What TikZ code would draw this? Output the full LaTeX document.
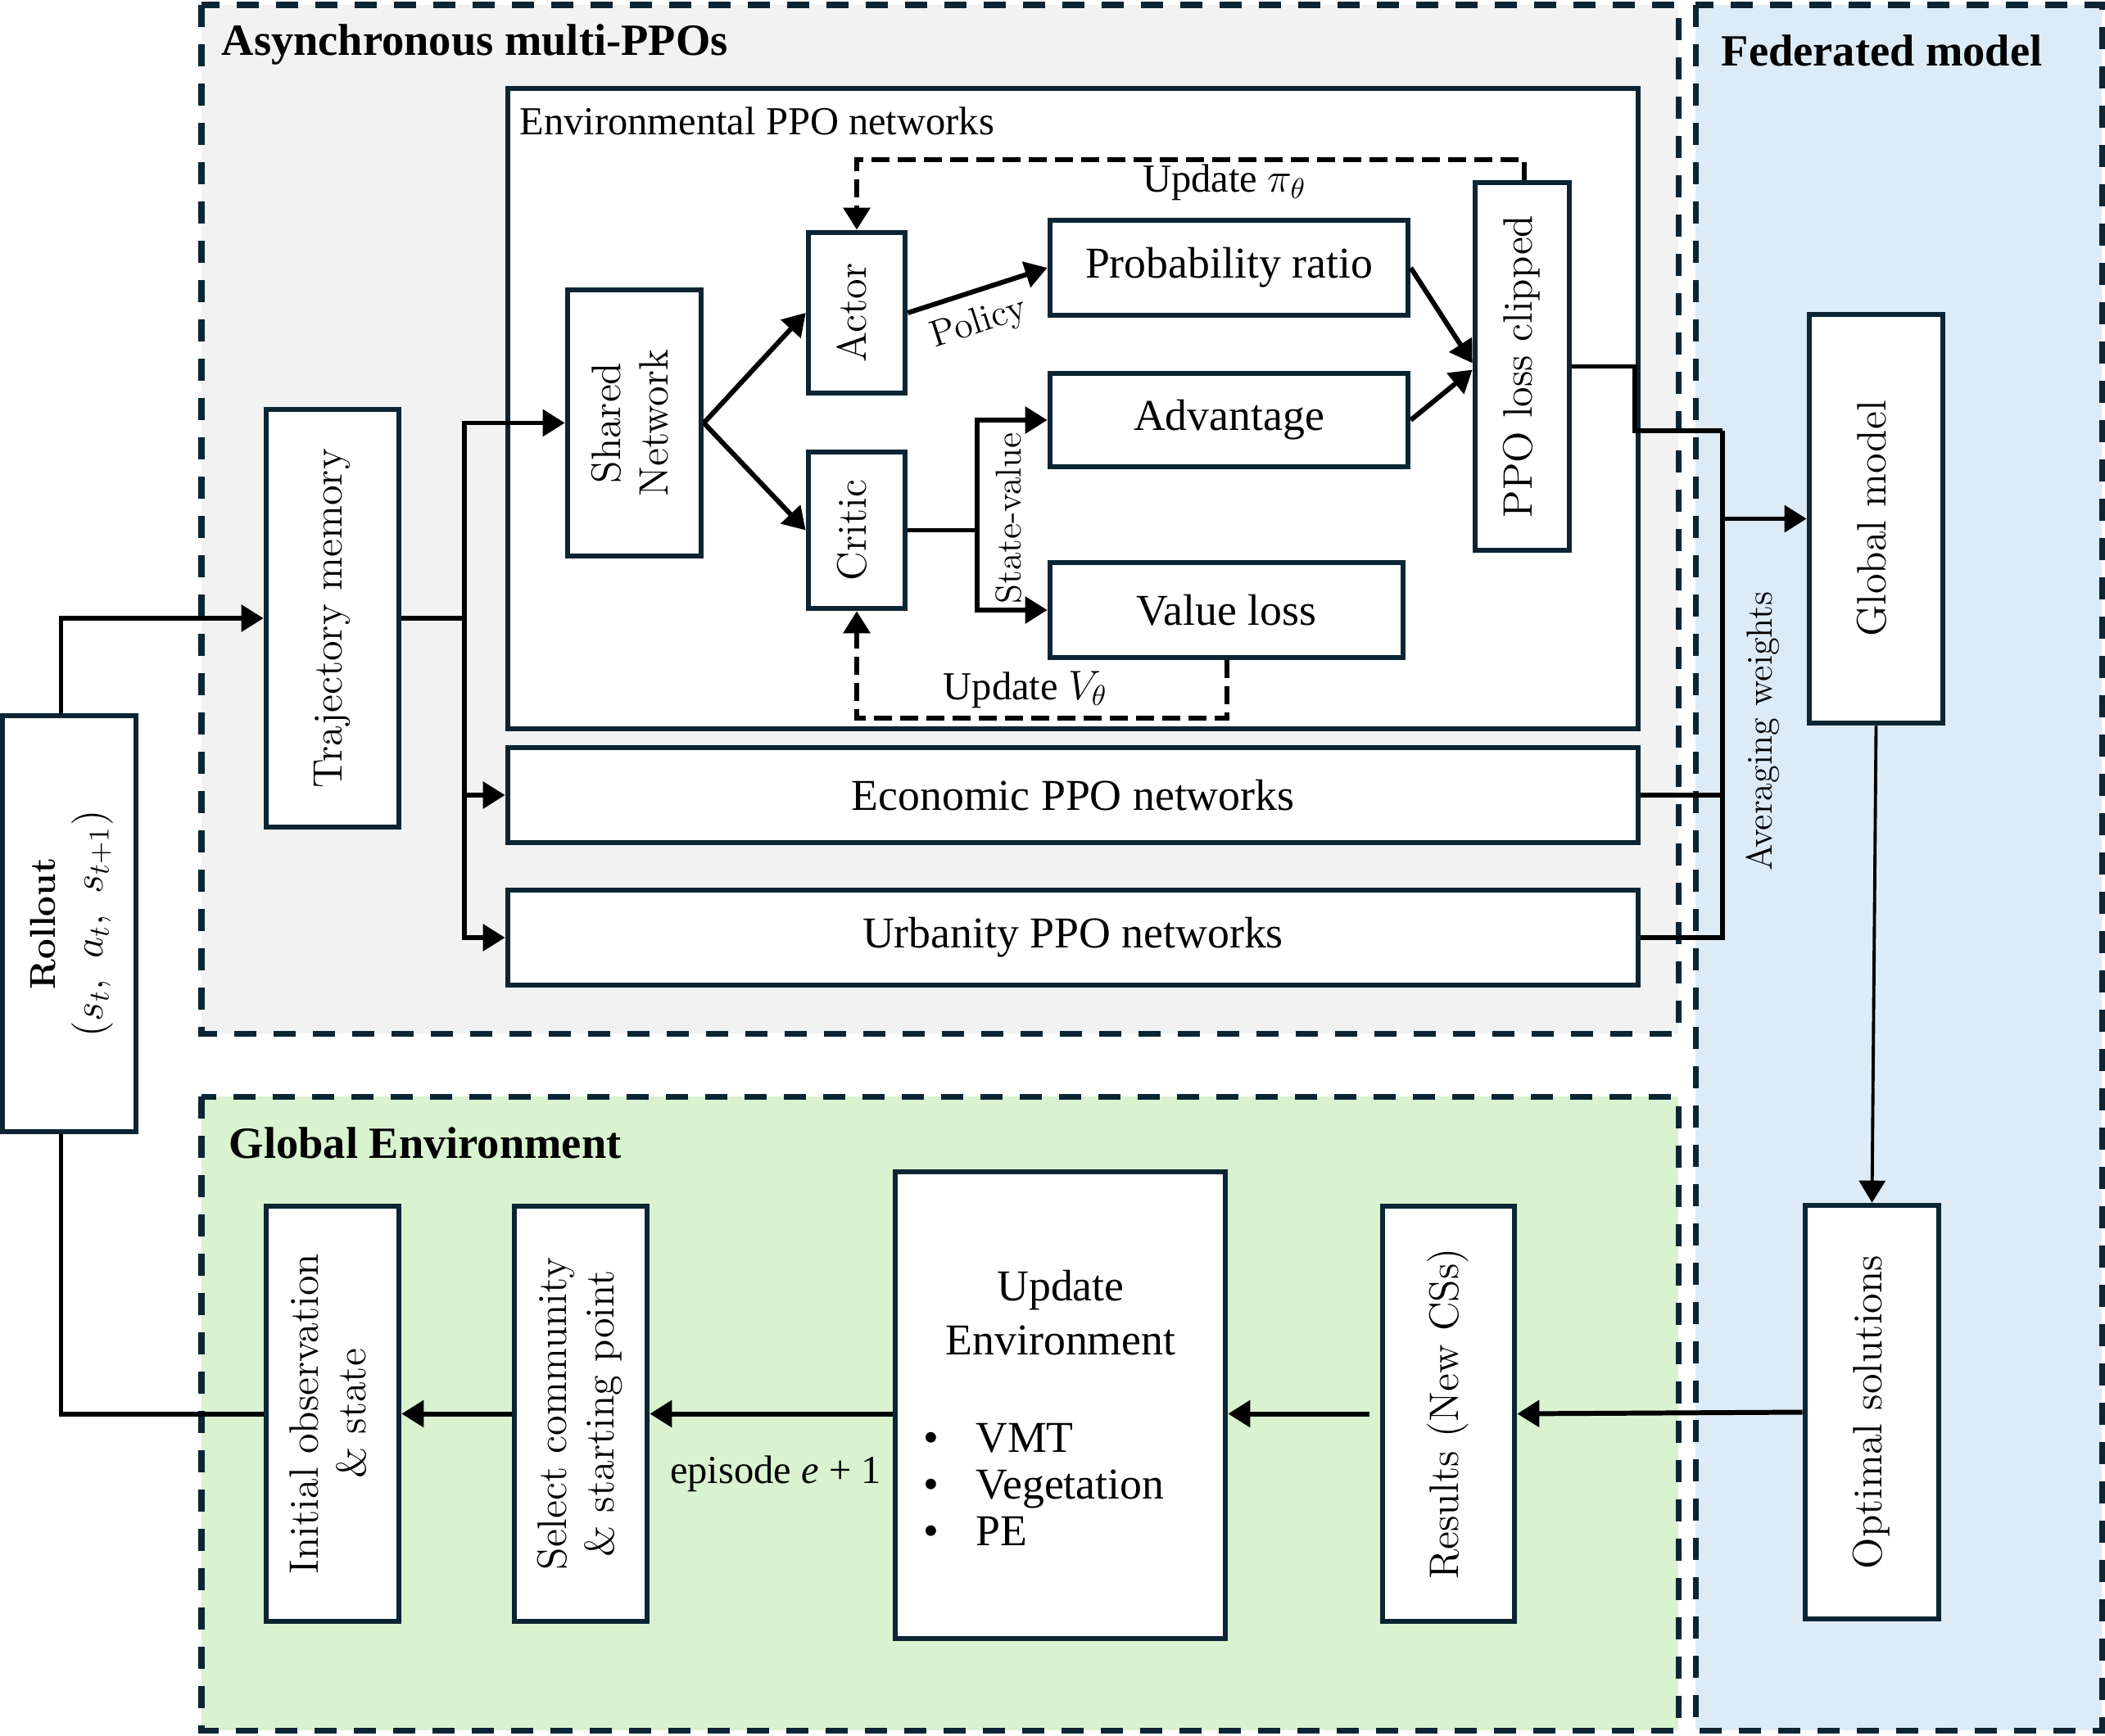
\documentclass[tikz,border=0pt]{standalone}
\usepackage{fontspec}
\usepackage{graphicx}
\usetikzlibrary{arrows.meta}
\newfontfamily\tnr{Liberation Serif}
\definecolor{navy}{HTML}{0B2534}
\definecolor{asyncfill}{HTML}{F2F2F2}
\definecolor{fedfill}{HTML}{DDEBF7}
\definecolor{envfill}{HTML}{D9F2D0}
\newcommand{\vtext}[1]{\rotatebox{90}{\begin{tabular}{@{}c@{}}#1\end{tabular}}}

\begin{document}
\begin{tikzpicture}[>={Triangle[length=0.27cm,width=0.32cm]},
    box/.style={draw=navy, line width=1.9pt, fill=white, inner sep=0pt,
        font=\tnr\fontsize{15.3}{18}\selectfont},
    vbox/.style={draw=navy, line width=1.9pt, fill=white, inner sep=0pt,
        font=\fontsize{14.3}{16.5}\selectfont},
    group/.style={draw=navy, line width=2pt, dash pattern=on 0.27cm off 0.21cm},
    title/.style={anchor=west, inner sep=0pt, font=\tnr\bfseries\fontsize{15.5}{18}\selectfont},
    lbl/.style={font=\tnr\fontsize{13.8}{16}\selectfont},
    link/.style={line width=1.7pt, ->},
    wire/.style={line width=1.7pt},
    upd/.style={line width=1.7pt, dash pattern=on 0.22cm off 0.1cm, ->}]
    \useasboundingbox (0,0) rectangle (25.70,-21.19);
    % Bereiche
    \draw[group, fill=asyncfill] (2.46,-0.06) rectangle (20.49,-12.62);
    \draw[group, fill=fedfill] (20.70,-0.06) rectangle (25.66,-21.13);
    \draw[group, fill=envfill] (2.46,-13.39) rectangle (20.49,-21.13);
    \node[title] (asynctitle) at (2.70,-0.54) {Asynchronous multi-PPOs};
    \node[title] (fedtitle) at (21.01,-0.62) {Federated model};
    \node[title] (envtitle) at (2.79,-13.96) {Global Environment};
    % PPO-Netze
    \node[box, minimum width=13.80cm, minimum height=7.82cm] (envppo) at (13.10,-4.99) {};
    \node[lbl, anchor=west, inner sep=0pt] (envlabel) at (6.34,-1.48) {Environmental PPO networks};
    \node[vbox, minimum width=1.63cm, minimum height=3.25cm] (shared) at (7.745,-5.165) {\vtext{Shared\\Network}};
    \node[vbox, minimum width=1.18cm, minimum height=1.96cm] (actor) at (10.46,-3.82) {\vtext{Actor}};
    \node[vbox, minimum width=1.18cm, minimum height=1.91cm] (critic) at (10.46,-6.475) {\vtext{Critic}};
    \node[box, minimum width=4.37cm, minimum height=1.16cm] (prob) at (15.005,-3.27) {Probability ratio};
    \node[box, minimum width=4.37cm, minimum height=1.14cm] (adv) at (15.005,-5.13) {Advantage};
    \node[box, minimum width=4.31cm, minimum height=1.16cm] (value) at (14.975,-7.45) {Value loss};
    \node[vbox, minimum width=1.15cm, minimum height=4.49cm] (ppo) at (18.585,-4.475) {\vtext{PPO loss clipped}};
    \node[box, minimum width=13.80cm, minimum height=1.16cm] (econ) at (13.10,-9.71) {Economic PPO networks};
    \node[box, minimum width=13.80cm, minimum height=1.16cm] (urban) at (13.10,-11.45) {Urbanity PPO networks};
    \node[vbox, minimum width=1.62cm, minimum height=5.10cm] (traj) at (4.06,-7.55) {\vtext{Trajectory memory}};
    \node[vbox, minimum width=1.63cm, minimum height=5.08cm] (rollout) at (0.845,-11.28)
        {\vtext{\fontsize{12.5}{16.5}\selectfont\bfseries Rollout\\$(s_t,\ a_t,\ s_{t+1})$}};
    % Foederiertes Modell
    \node[vbox, minimum width=1.63cm, minimum height=4.99cm] (gm) at (22.905,-6.335) {\vtext{Global model}};
    \node[vbox, minimum width=1.63cm, minimum height=5.05cm] (opt) at (22.855,-17.245) {\vtext{Optimal solutions}};
    % Umgebung
    \node[vbox, minimum width=1.61cm, minimum height=5.07cm] (results) at (17.685,-17.265) {\vtext{Results (New CSs)}};
    \node[box, minimum width=4.03cm, minimum height=5.70cm] (updenv) at (12.945,-17.16) {};
    \node[box, draw=none, fill=none, align=center, font=\tnr\fontsize{15.3}{19}\selectfont] (updtxt) at (12.95,-16.03) {Update\\Environment};
    \node[box, draw=none, fill=none, anchor=west, align=left, font=\tnr\fontsize{15.3}{16.3}\selectfont] (updlist) at (11.24,-18.13)
        {\makebox[0.64cm][l]{\textbullet}VMT\\\makebox[0.64cm][l]{\textbullet}Vegetation\\\makebox[0.64cm][l]{\textbullet}PE};
    \node[vbox, minimum width=1.62cm, minimum height=5.07cm] (select) at (7.09,-17.265) {\vtext{Select community\\\& starting point}};
    \node[vbox, minimum width=1.62cm, minimum height=5.07cm] (init) at (4.06,-17.265) {\vtext{Initial observation\\\& state}};
    % Verbindungen
    \draw[link] ([xshift=-0.1cm]rollout.north) |- (traj.west);
    \draw[wire] ([xshift=-0.1cm]rollout.south) |- (init.west);
    \coordinate (tj) at (5.67,-7.55);
    \draw[wire] (traj.east) -- (tj);
    \draw[link] (tj) |- (shared.west);
    \draw[link] (tj) |- (econ.west);
    \draw[link] (tj) |- (urban.west);
    \draw[link] (shared.east) -- (actor.west);
    \draw[link] (shared.east) -- (critic.west);
    \draw[link] (actor.east) -- node[sloped, below, pos=0.44, font=\fontsize{13}{15}\selectfont, inner sep=4.5pt] (policy) {Policy} (prob.west);
    \coordinate (cj) at (11.93,-6.475);
    \draw[wire] (critic.east) -- (cj);
    \draw[link] (cj) |- (adv.west);
    \draw[link] (cj) |- (value.west);
    \node[rotate=90, font=\fontsize{12.5}{15}\selectfont, inner sep=0pt] (stateval) at (12.31,-6.33) {State-value};
    \draw[link] (prob.east) -- ([yshift=0.04cm]ppo.west);
    \draw[link] (adv.east) -- ([yshift=-0.04cm]ppo.west);
    \draw[upd] ([xshift=0.02cm]ppo.north) -- ++(0,0.25) -| (actor.north);
    \node[lbl] (updpi) at (14.95,-2.23) {Update $\pi_\theta$};
    \draw[upd] (value.south) -- ++(0,-0.71) -| (critic.south);
    \node[lbl] (updv) at (12.52,-8.42) {Update $V_\theta$};
    \coordinate (pk) at (19.96,-5.26);
    \coordinate (aj) at (21.03,-5.26);
    \draw[wire] (ppo.east) -| (pk) -- (aj);
    \draw[wire] (econ.east) -- (econ.east -| aj);
    \draw[wire] (urban.east) -| (aj);
    \draw[link] (aj |- gm.west) -- (gm.west);
    \node[rotate=90, font=\fontsize{12.6}{15}\selectfont, inner sep=0pt] (avg) at (21.52,-8.93) {Averaging weights};
    \draw[->, line width=1.1pt] (gm.south) -- (opt.north);
    \draw[link] (opt.west) -- (results.east);
    \draw[link] ([xshift=-0.13cm]results.west) -- (results.west -| updenv.east);
    \draw[link] (updenv.west |- select.east) -- (select.east);
    \node[lbl] (episode) at (9.47,-18.0) {episode \textit{e} + 1};
    \draw[link] (select.west) -- (init.east);
\end{tikzpicture}
\end{document}
